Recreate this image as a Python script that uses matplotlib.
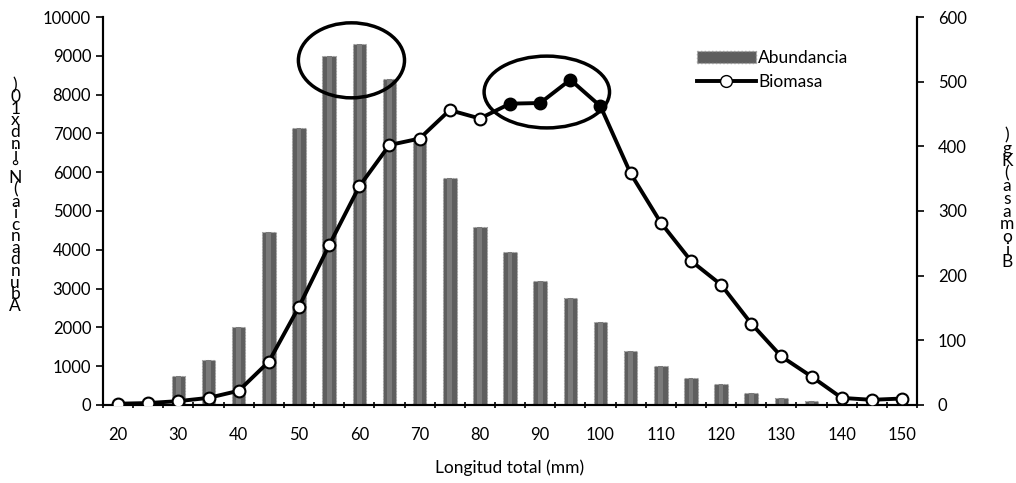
import numpy as np
import matplotlib.pyplot as plt
from matplotlib.patches import Ellipse
from matplotlib.lines import Line2D
from matplotlib.patches import Rectangle

plt.rcParams['font.family'] = ['Lato', 'DejaVu Sans']

# longitud total (mm)
longitud = [20, 25, 30, 35, 40, 45, 50, 55, 60, 65, 70, 75, 80, 85,
            90, 95, 100, 105, 110, 115, 120, 125, 130, 135, 140, 145, 150]
abundancia = [0, 0, 750, 1150, 2000, 4450, 7150, 9000, 9300, 8400, 6900, 5850, 4600, 3950,
              3200, 2750, 2150, 1400, 1000, 700, 550, 300, 180, 100, 20, 0, 10]
biomasa = [2, 3, 6, 11, 22, 67, 152, 247, 338, 402, 412, 456, 443, 466,
           467, 503, 462, 358, 282, 223, 186, 126, 75, 44, 11, 8, 10]
destacados = [85, 90, 95, 100]

fig = plt.figure(figsize=(10.16, 4.83), dpi=100)
ax = fig.add_axes([0.1014, 0.1615, 0.8012, 0.8033])
ax2 = ax.twinx()

ax.bar(longitud, abundancia, width=2.25, color='#5e5e5e', edgecolor='#9a9a9a',
       linewidth=0.8, linestyle=':', zorder=2)
ax.bar(longitud, abundancia, width=0.8, color='#7a7a7a', linewidth=0, zorder=3)

ax2.plot(longitud, biomasa, color='black', lw=2.8, zorder=3)
for x, y in zip(longitud, biomasa):
    fc = 'black' if x in destacados else 'white'
    ax2.plot(x, y, 'o', ms=8.5, mfc=fc, mec='black', mew=1.5, zorder=4)

ax2.add_patch(Ellipse((58.7, 533), 17.6, 116, fill=False, lw=2.5, ec='black', zorder=5))
ax2.add_patch(Ellipse((91.1, 484), 20.8, 111, fill=False, lw=2.5, ec='black', zorder=5))

ax.set_xlim(17.5, 152.5)
ax.set_ylim(0, 10000)
ax2.set_ylim(0, 600)
ax.set_yticks(range(0, 10001, 1000))
ax2.set_yticks(range(0, 601, 100))

ax.set_xticks(np.arange(17.5, 153, 5))
ax.set_xticklabels([])
ax.set_xticks(range(20, 151, 10), minor=True)
ax.set_xticklabels([str(v) for v in range(20, 151, 10)], minor=True)
ax.tick_params(axis='x', which='major', length=5, direction='inout', width=1.2)
ax.tick_params(axis='x', which='minor', length=0, pad=16, labelsize=12)
ax.tick_params(axis='y', length=5, width=1.2, labelsize=12)
ax2.tick_params(axis='y', length=5, width=1.2, labelsize=12, pad=10)

for a in (ax, ax2):
    a.spines['top'].set_visible(False)
    for s in ('left', 'right', 'bottom'):
        a.spines[s].set_linewidth(1.5)

ax.set_xlabel('Longitud total (mm)', fontsize=12.5, labelpad=12)

# etiquetas verticales (letras apiladas)
izq = 'Abundancia(N°indx10)'
fig.text(0.015, 0.595, '\n'.join(reversed(izq)), ha='center', va='center',
         fontsize=12.5, linespacing=0.66)
der = 'Biomasa(Kg)'
fig.text(0.991, 0.588, '\n'.join(reversed(der)), ha='center', va='center',
         fontsize=12.5, linespacing=0.74)

handles = [Rectangle((0, 0), 1, 1, fc='#5e5e5e', ec='#9a9a9a', ls=':'),
           Line2D([], [], color='black', lw=2.8, marker='o', ms=8.5, mfc='white', mec='black')]
ax.legend(handles, ['Abundancia', 'Biomasa'], loc='upper left', bbox_to_anchor=(0.71, 0.955),
          frameon=False, fontsize=12.5, handlelength=3.4, handletextpad=0.15, labelspacing=0.45)

fig.savefig('out.png', dpi=100)
